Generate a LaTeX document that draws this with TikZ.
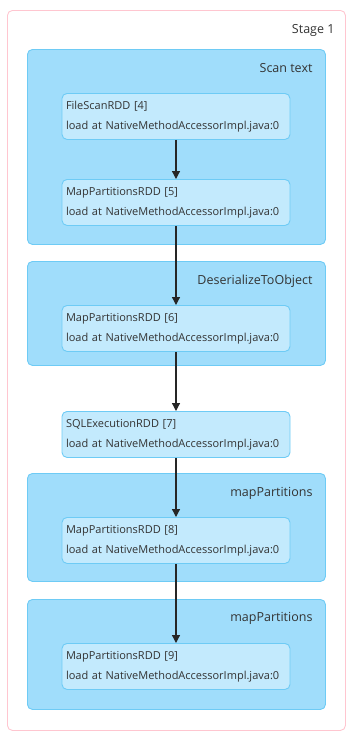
\documentclass[tikz,border=0pt]{standalone}
\usepackage{fontspec}
\setmainfont{Open Sans}
\usepackage{tikz}
\usetikzlibrary{arrows.meta,positioning}
\definecolor{stagePink}{HTML}{FFC6D0}
\definecolor{clusterFill}{HTML}{A0DDFB}
\definecolor{clusterLine}{HTML}{6ECBF5}
\definecolor{rddFill}{HTML}{C3EAFD}
\definecolor{rddLine}{HTML}{6ECBF5}
\definecolor{inkGray}{HTML}{333333}

\begin{document}
\begin{tikzpicture}[
    x=1pt, y=-1pt,
    font=\fontsize{11}{20}\selectfont,
    text=inkGray,
    stage/.style={draw=stagePink, line width=0.9pt, rounded corners=5pt, anchor=north west, inner sep=0pt},
    cluster/.style={draw=clusterLine, fill=clusterFill, line width=0.9pt, rounded corners=5pt, anchor=north west, minimum width=298pt, inner sep=0pt},
    rdd/.style={draw=rddLine, fill=rddFill, line width=0.9pt, rounded corners=5pt, minimum width=228pt, minimum height=46pt, text width=220pt, inner xsep=4pt, inner ysep=2pt, align=left, anchor=north},
    caption/.style={anchor=east, font=\fontsize{12.5}{14}\selectfont},
    arrow/.style={-{Triangle[length=8pt,width=8pt]}, line width=1.2pt, draw=black!85}
]
    \useasboundingbox (0,0) rectangle (356,740);

    % stage and its clusters
    \node[stage, minimum width=338pt, minimum height=720pt] (stage) at (7,10) {};
    \node[caption] at (338,30) {Stage 1};

    \node[cluster, minimum height=195pt] (scan) at (27,49) {};
    \node[caption] at (316,68) {Scan text};
    \node[cluster, minimum height=104pt] (deser) at (27,261) {};
    \node[caption] at (316,281) {DeserializeToObject};
    \node[cluster, minimum height=108pt] (mapA) at (27,473) {};
    \node[caption] at (316,493) {mapPartitions};
    \node[cluster, minimum height=110pt] (mapB) at (27,599) {};
    \node[caption] at (316,618) {mapPartitions};

    % rdd nodes
    \node[rdd] (rdd4) at (176,93) {FileScanRDD [4]\\load at NativeMethodAccessorImpl.java:0};
    \node[rdd] (rdd5) at (176,179) {MapPartitionsRDD [5]\\load at NativeMethodAccessorImpl.java:0};
    \node[rdd] (rdd6) at (176,305) {MapPartitionsRDD [6]\\load at NativeMethodAccessorImpl.java:0};
    \node[rdd] (rdd7) at (176,411) {SQLExecutionRDD [7]\\load at NativeMethodAccessorImpl.java:0};
    \node[rdd] (rdd8) at (176,517) {MapPartitionsRDD [8]\\load at NativeMethodAccessorImpl.java:0};
    \node[rdd] (rdd9) at (176,643) {MapPartitionsRDD [9]\\load at NativeMethodAccessorImpl.java:0};

    \draw[arrow] (rdd4) -- (rdd5);
    \draw[arrow] (rdd5) -- (rdd6);
    \draw[arrow] (rdd6) -- (rdd7);
    \draw[arrow] (rdd7) -- (rdd8);
    \draw[arrow] (rdd8) -- (rdd9);
\end{tikzpicture}
\end{document}
